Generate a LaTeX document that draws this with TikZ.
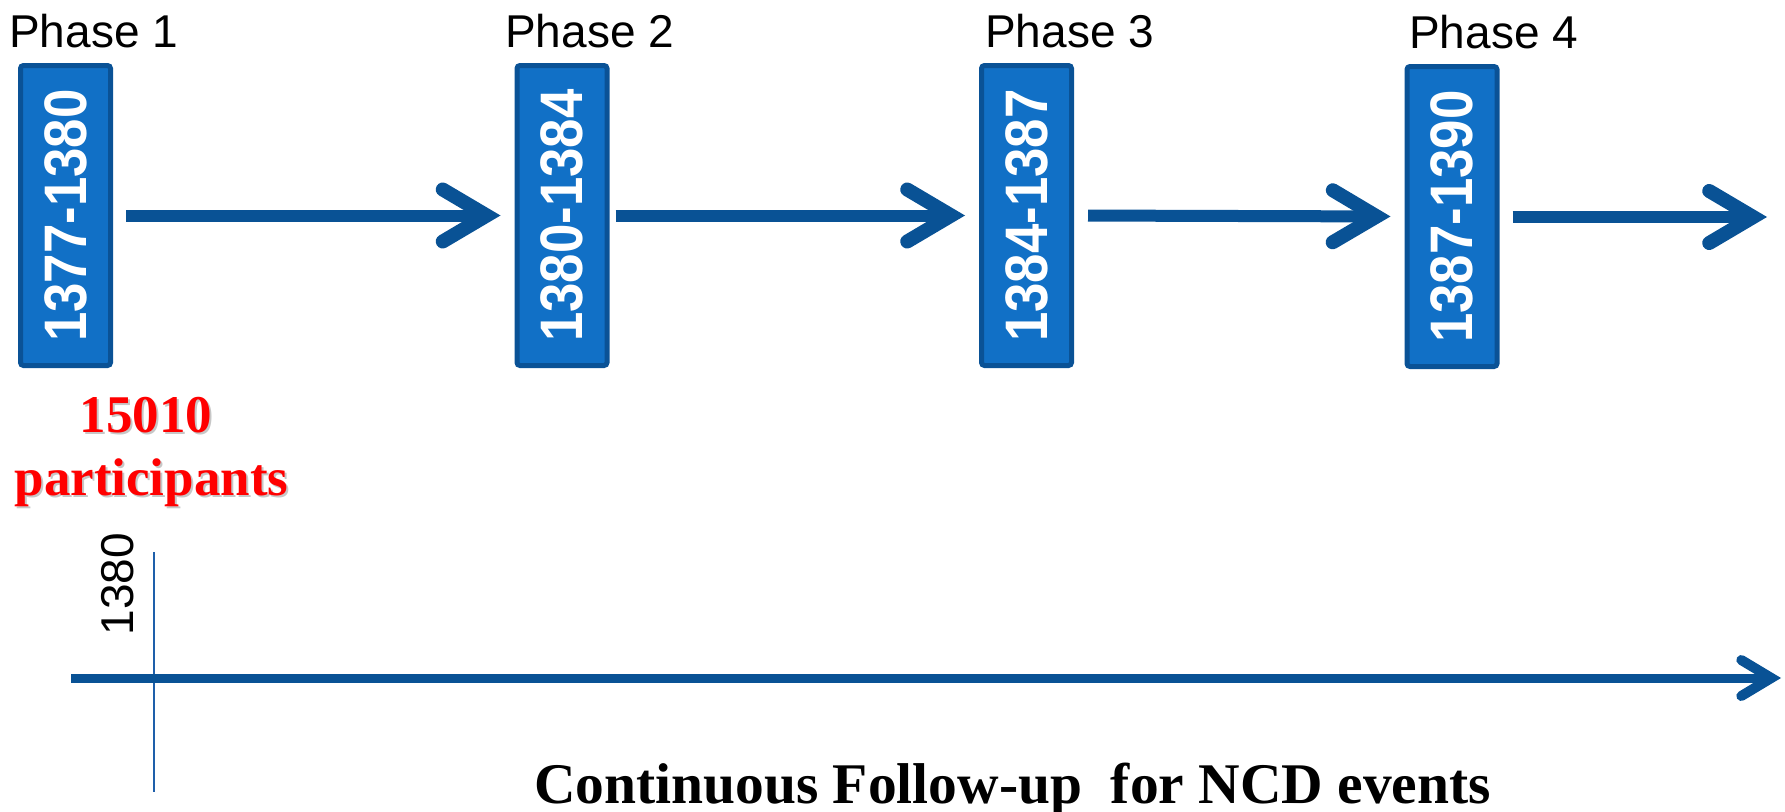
\documentclass[tikz,border=0pt]{standalone}
\usepackage{fontspec}
\setmainfont{Liberation Sans}
\newfontfamily\serifbold{Liberation Serif}
\usetikzlibrary{arrows.meta}
\definecolor{boxfill}{RGB}{17,112,198}
\definecolor{boxedge}{RGB}{10,82,150}
\definecolor{arrowblue}{RGB}{9,82,149}
\definecolor{tickblue}{RGB}{30,95,170}
\tikzset{
  yearbox/.style={draw=boxedge, fill=boxfill, line width=5pt, rounded corners=3pt,
    minimum width=90pt, minimum height=300pt, inner sep=0pt},
  yeartext/.style={rotate=90, text=white, font=\fontsize{60}{60}\selectfont\bfseries, inner sep=0pt},
  phaselabel/.style={anchor=base west, inner sep=0pt, font=\fontsize{46}{46}\selectfont},
  stepflow/.style={draw=arrowblue, line width=12pt,
    -{Straight Barb[length=44pt, width=52pt, line width=14pt, line cap=round, line join=miter]}},
  followflow/.style={draw=arrowblue, line width=9pt,
    -{Straight Barb[length=30pt, width=36pt, line width=10pt, line cap=round, line join=miter]}},
  redtext/.style={anchor=base, inner sep=0pt, text=red, font=\fontsize{53}{53}\selectfont\serifbold\bfseries},
  redshadow/.style={anchor=base, inner sep=0pt, text=black, opacity=0.22, font=\fontsize{53}{53}\selectfont\serifbold\bfseries},
}
\begin{document}
\begin{tikzpicture}[x=1pt, y=-1pt]
\useasboundingbox (0,0) rectangle (1785,811);

% phase boxes
\node[yearbox] (b1) at (65.5,215.5) {};
\node[yearbox] (b2) at (562,215.5) {};
\node[yearbox] (b3) at (1026.5,215.5) {};
\node[yearbox] (b4) at (1452,216.5) {};
\node[yeartext] (t1) at (b1.center) {\scalebox{0.88}[1]{1377-1380}};
\node[yeartext] (t2) at (b2.center) {\scalebox{0.88}[1]{1380-1384}};
\node[yeartext] (t3) at (b3.center) {\scalebox{0.88}[1]{1384-1387}};
\node[yeartext] (t4) at (b4.center) {\scalebox{0.88}[1]{1387-1390}};

% phase titles
\node[phaselabel] (p1) at (9,47) {Phase 1};
\node[phaselabel] (p2) at (505,47) {Phase 2};
\node[phaselabel] (p3) at (985,47) {Phase 3};
\node[phaselabel] (p4) at (1409,48) {Phase 4};

% arrows between phases
\coordinate (end4) at (1767,217);
\draw[stepflow, shorten <=13pt, shorten >=14pt] (b1.east) -- (b2.west);
\draw[stepflow, shorten <=6pt, shorten >=14pt] (b2.east) -- (b3.west);
\draw[stepflow, shorten <=14pt, shorten >=14pt] (b3.east) -- (b4.west);
\draw[stepflow, shorten <=13pt] (b4.east |- end4) -- (end4);

% cohort size
\node[redshadow] (s1) at (148,434) {15010};
\node[redshadow] (s2) at (153.5,497) {participants};
\node[redtext] (n1) at (146,432) {15010};
\node[redtext] (n2) at (151.5,495) {participants};

% follow-up timeline
\coordinate (tl0) at (71,678);
\coordinate (tl1) at (1781,678);
\coordinate (tk0) at (154,552);
\coordinate (tk1) at (154,792);
\draw[tickblue, line width=2pt] (tk0) -- (tk1);
\draw[followflow] (tl0) -- (tl1);
\node[rotate=90, inner sep=0pt, font=\fontsize{46}{46}\selectfont] (y1380) at (117.5,584) {1380};
\node[anchor=base west, inner sep=0pt, font=\fontsize{57.5}{57.5}\selectfont\serifbold\bfseries] (cap) at (534,803)
  {Continuous Follow-up\ \ for NCD events};
\end{tikzpicture}
\end{document}
